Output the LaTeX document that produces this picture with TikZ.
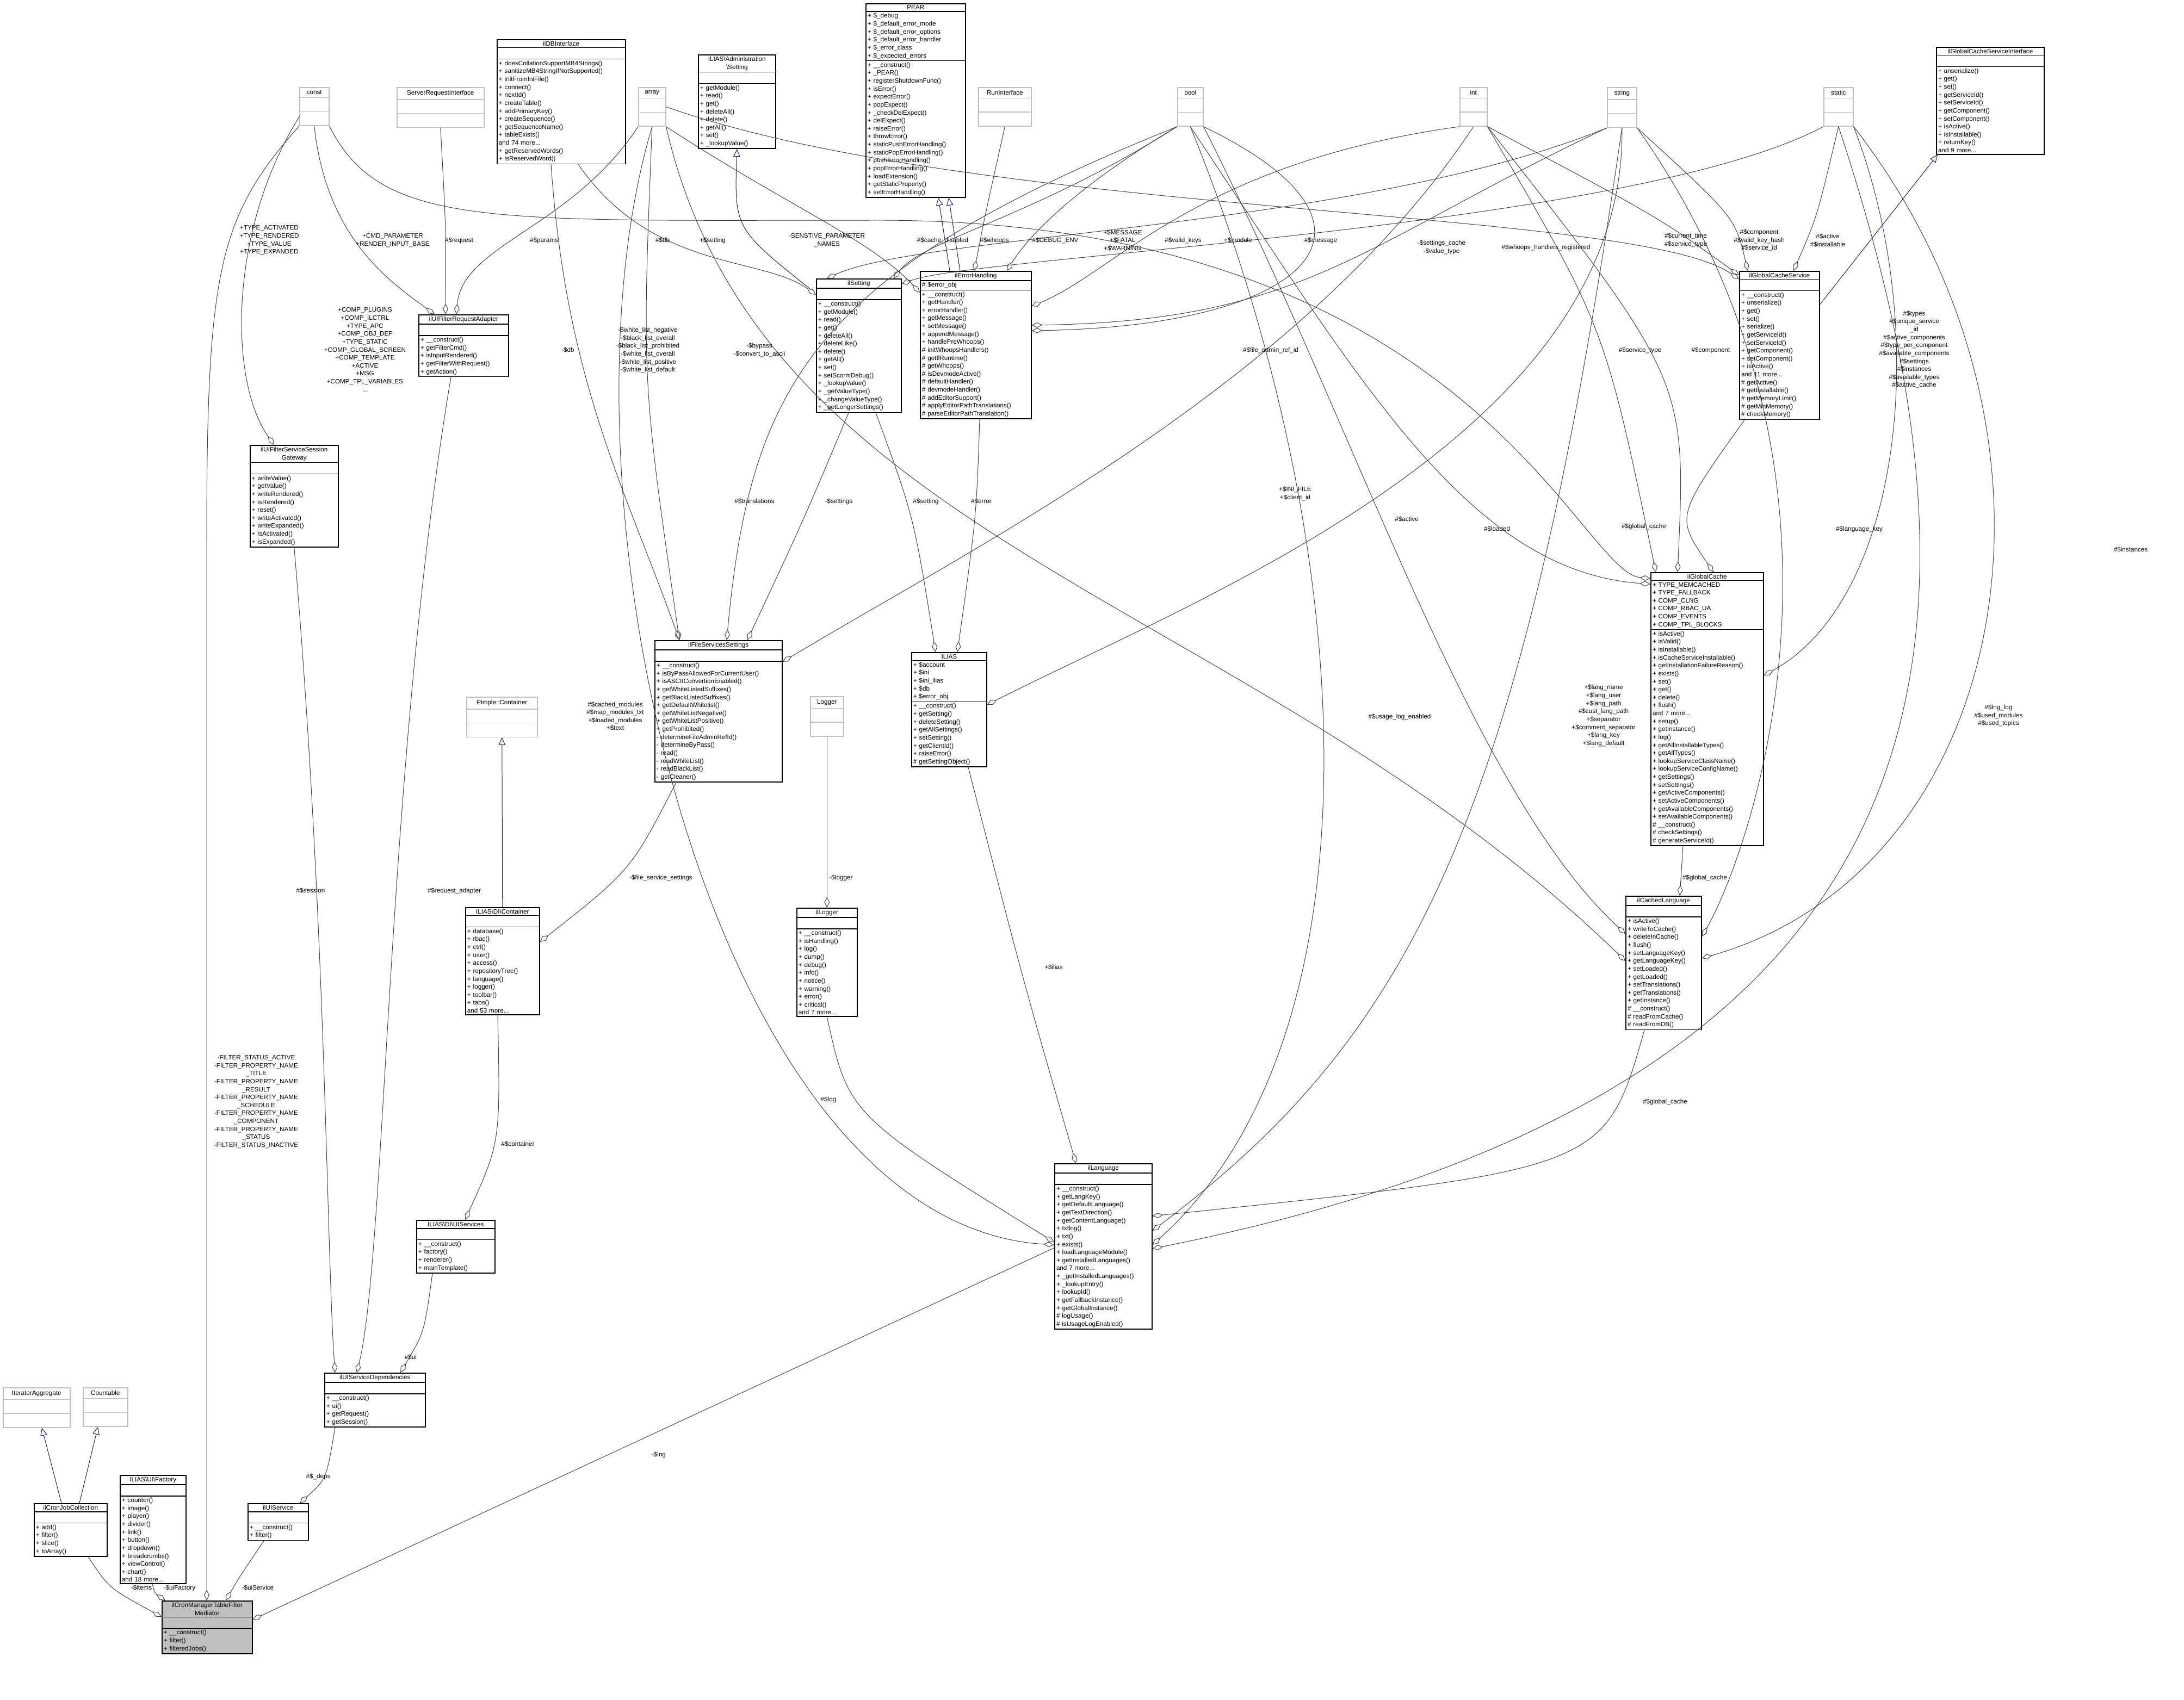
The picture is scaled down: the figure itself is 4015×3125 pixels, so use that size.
\documentclass[tikz,border=0pt]{standalone}
\usepackage{fontspec}
\setmainfont{Liberation Sans}
\usetikzlibrary{shapes.multipart,arrows.meta,calc}

\newcommand\dgfont{\fontsize{8.3}{10.4}\selectfont}
\newcommand\ttl[1]{\makebox[\hsize][c]{#1}}
\definecolor{edgecol}{rgb}{0.25,0.25,0.25}
\definecolor{gencol}{rgb}{0.1,0.1,0.45}

\tikzset{
  cls/.style={rectangle split, rectangle split parts=3, draw=black, line width=1.1pt,
    anchor=north west, align=left,
    inner xsep=0.08cm, inner ysep=0.06cm,
    font=\dgfont, text width={0.025cm*#1-0.16cm}},
  extcls/.style={cls=#1, draw=black!25, inner ysep=0.12cm},
  agg/.style={draw=edgecol, line width=0.7pt, -{Diamond[open,length=14pt,width=7pt]}},
  gen/.style={draw=gencol, line width=0.7pt, -{Triangle[open,length=10pt,width=9pt]}},
  lbl/.style={font=\dgfont, align=center, inner sep=1pt},
}

\begin{document}
\begin{tikzpicture}[x=0.025cm,y=-0.025cm]
  \useasboundingbox (0,0) rectangle (4015,3125);
%%
  % Node: basic types
  \node[extcls=54] (const) at (550,160) {\ttl{const} \nodepart{two}\strut \nodepart{three}\strut};
  \node[extcls=160] (sri) at (729,160) {\ttl{ServerRequestInterface} \nodepart{two}\strut \nodepart{three}\strut};
  \node[extcls=50] (array) at (1173,160) {\ttl{array} \nodepart{two}\strut \nodepart{three}\strut};
  \node[extcls=97] (runiface) at (1798,160) {\ttl{RunInterface} \nodepart{two}\strut \nodepart{three}\strut};
  \node[extcls=47] (bool) at (2164,160) {\ttl{bool} \nodepart{two}\strut \nodepart{three}\strut};
  \node[extcls=50] (int) at (2683,160) {\ttl{int} \nodepart{two}\strut \nodepart{three}\strut};
  \node[extcls=54] (string) at (2954,160) {\ttl{string} \nodepart{two}\strut \nodepart{three}\strut};
  \node[extcls=54] (static) at (3352,160) {\ttl{static} \nodepart{two}\strut \nodepart{three}\strut};
  \node[extcls=123] (iteraggr) at (5,2551) {\ttl{IteratorAggregate} \nodepart{two}\strut \nodepart{three}\strut};
  \node[extcls=82] (countable) at (152,2551) {\ttl{Countable} \nodepart{two}\strut \nodepart{three}\strut};
  \node[extcls=130] (pimple) at (857,1281) {\ttl{Pimple::Container} \nodepart{two}\strut \nodepart{three}\strut};
  \node[extcls=61] (logger) at (1489,1280) {\ttl{Logger} \nodepart{two}\strut \nodepart{three}\strut};
  % Node: classes
  \node[cls=236] (dbiface) at (913,72) {\ttl{ilDBInterface} \nodepart{two}\strut \nodepart{three}
    + doesCollationSupportMB4Strings()\\+ sanitizeMB4StringIfNotSupported()\\+ initFromIniFile()\\+ connect()\\+ nextId()\\+ createTable()\\+ addPrimaryKey()\\+ createSequence()\\+ getSequenceName()\\+ tableExists()\\and 74 more...\\+ getReservedWords()\\+ isReservedWord()};
  \node[cls=142] (admsetting) at (1283,100) {\ttl{ILIAS\textbackslash Administration}\\\ttl{\textbackslash Setting} \nodepart{two}\strut \nodepart{three}
    + getModule()\\+ read()\\+ get()\\+ deleteAll()\\+ delete()\\+ getAll()\\+ set()\\+ \_lookupValue()};
  \node[cls=183] (pear) at (1591,6) {\ttl{PEAR} \nodepart{two}
    + \$\_debug\\+ \$\_default\_error\_mode\\+ \$\_default\_error\_options\\+ \$\_default\_error\_handler\\+ \$\_error\_class\\+ \$\_expected\_errors \nodepart{three}
    + \_\_construct()\\+ \_PEAR()\\+ registerShutdownFunc()\\+ isError()\\+ expectError()\\+ popExpect()\\+ \_checkDelExpect()\\+ delExpect()\\+ raiseError()\\+ throwError()\\+ staticPushErrorHandling()\\+ staticPopErrorHandling()\\+ pushErrorHandling()\\+ popErrorHandling()\\+ loadExtension()\\+ getStaticProperty()\\+ setErrorHandling()};
  \node[cls=198] (gcsiface) at (3559,86) {\ttl{ilGlobalCacheServiceInterface} \nodepart{two}\strut \nodepart{three}
    + unserialize()\\+ get()\\+ set()\\+ getServiceId()\\+ setServiceId()\\+ getComponent()\\+ setComponent()\\+ isActive()\\+ isInstallable()\\+ returnKey()\\and 9 more...};
  \node[cls=156] (setting) at (1500,512) {\ttl{ilSetting} \nodepart{two}\strut \nodepart{three}
    + \_\_construct()\\+ getModule()\\+ read()\\+ get()\\+ deleteAll()\\+ deleteLike()\\+ delete()\\+ getAll()\\+ set()\\+ setScormDebug()\\+ \_lookupValue()\\+ \_getValueType()\\+ \_changeValueType()\\+ \_getLongerSettings()};
  \node[cls=204] (errhandling) at (1691,498) {\ttl{ilErrorHandling} \nodepart{two}
    \# \$error\_obj \nodepart{three}
    + \_\_construct()\\+ getHandler()\\+ errorHandler()\\+ getMessage()\\+ setMessage()\\+ appendMessage()\\+ handlePreWhoops()\\\# initWhoopsHandlers()\\\# getIlRuntime()\\\# getWhoops()\\\# isDevmodeActive()\\\# defaultHandler()\\\# devmodeHandler()\\\# addEditorSupport()\\\# applyEditorPathTranslations()\\\# parseEditorPathTranslation()};
  \node[cls=147] (gcservice) at (3197,498) {\ttl{ilGlobalCacheService} \nodepart{two}\strut \nodepart{three}
    + \_\_construct()\\+ unserialize()\\+ get()\\+ set()\\+ serialize()\\+ getServiceId()\\+ setServiceId()\\+ getComponent()\\+ setComponent()\\+ isActive()\\and 11 more...\\\# getActive()\\\# getInstallable()\\\# getMemoryLimit()\\\# getMinMemory()\\\# checkMemory()};
  \node[cls=165] (adapter) at (769,578) {\ttl{ilUIFilterRequestAdapter} \nodepart{two}\strut \nodepart{three}
    + \_\_construct()\\+ getFilterCmd()\\+ isInputRendered()\\+ getFilterWithRequest()\\+ getAction()};
  \node[cls=162] (gateway) at (459,818) {\ttl{ilUIFilterServiceSession}\\\ttl{Gateway} \nodepart{two}\strut \nodepart{three}
    + writeValue()\\+ getValue()\\+ writeRendered()\\+ isRendered()\\+ reset()\\+ writeActivated()\\+ writeExpanded()\\+ isActivated()\\+ isExpanded()};
  \node[cls=207] (globalcache) at (3034,1052) {\ttl{ilGlobalCache} \nodepart{two}
    + TYPE\_MEMCACHED\\+ TYPE\_FALLBACK\\+ COMP\_CLNG\\+ COMP\_RBAC\_UA\\+ COMP\_EVENTS\\+ COMP\_TPL\_BLOCKS \nodepart{three}
    + isActive()\\+ isValid()\\+ isInstallable()\\+ isCacheServiceInstallable()\\+ getInstallationFailureReason()\\+ exists()\\+ set()\\+ get()\\+ delete()\\+ flush()\\and 7 more...\\+ setup()\\+ getInstance()\\+ log()\\+ getAllInstallableTypes()\\+ getAllTypes()\\+ lookupServiceClassName()\\+ lookupServiceConfigName()\\+ getSettings()\\+ setSettings()\\+ getActiveComponents()\\+ setActiveComponents()\\+ getAvailableComponents()\\+ setAvailableComponents()\\\# \_\_construct()\\\# checkSettings()\\\# generateServiceId()};
  \node[cls=234] (fileservices) at (1203,1177) {\ttl{ilFileServicesSettings} \nodepart{two}\strut \nodepart{three}
    + \_\_construct()\\+ isByPassAllowedForCurrentUser()\\+ isASCIIConvertionEnabled()\\+ getWhiteListedSuffixes()\\+ getBlackListedSuffixes()\\+ getDefaultWhitelist()\\+ getWhiteListNegative()\\+ getWhiteListPositive()\\+ getProhibited()\\- determineFileAdminRefId()\\- determineByPass()\\- read()\\- readWhiteList()\\- readBlackList()\\- getCleaner()};
  \node[cls=138] (ilias) at (1675,1199) {\ttl{ILIAS} \nodepart{two}
    + \$account\\+ \$ini\\+ \$ini\_ilias\\+ \$db\\+ \$error\_obj \nodepart{three}
    + \_\_construct()\\+ getSetting()\\+ deleteSetting()\\+ getAllSettings()\\+ setSetting()\\+ getClientId()\\+ raiseError()\\\# getSettingObject()};
  \node[cls=139] (cachedlang) at (2988,1647) {\ttl{ilCachedLanguage} \nodepart{two}\strut \nodepart{three}
    + isActive()\\+ writeToCache()\\+ deleteInCache()\\+ flush()\\+ setLanguageKey()\\+ getLanguageKey()\\+ setLoaded()\\+ getLoaded()\\+ setTranslations()\\+ getTranslations()\\+ getInstance()\\\# \_\_construct()\\\# readFromCache()\\\# readFromDB()};
  \node[cls=136] (dicontainer) at (855,1668) {\ttl{ILIAS\textbackslash DI\textbackslash Container} \nodepart{two}\strut \nodepart{three}
    + database()\\+ rbac()\\+ ctrl()\\+ user()\\+ access()\\+ repositoryTree()\\+ language()\\+ logger()\\+ toolbar()\\+ tabs()\\and 53 more...};
  \node[cls=111] (illogger) at (1464,1669) {\ttl{ilLogger} \nodepart{two}\strut \nodepart{three}
    + \_\_construct()\\+ isHandling()\\+ log()\\+ dump()\\+ debug()\\+ info()\\+ notice()\\+ warning()\\+ error()\\+ critical()\\and 7 more...};
  \node[cls=179] (language) at (1938,2139) {\ttl{ilLanguage} \nodepart{two}\strut \nodepart{three}
    + \_\_construct()\\+ getLangKey()\\+ getDefaultLanguage()\\+ getTextDirection()\\+ getContentLanguage()\\+ txtlng()\\+ txt()\\+ exists()\\+ loadLanguageModule()\\+ getInstalledLanguages()\\and 7 more...\\+ \_getInstalledLanguages()\\+ \_lookupEntry()\\+ lookupId()\\+ getFallbackInstance()\\+ getGlobalInstance()\\\# logUsage()\\\# isUsageLogEnabled()};
  \node[cls=144] (uiservices) at (765,2243) {\ttl{ILIAS\textbackslash DI\textbackslash UIServices} \nodepart{two}\strut \nodepart{three}
    + \_\_construct()\\+ factory()\\+ renderer()\\+ mainTemplate()};
  \node[cls=185] (uideps) at (596,2524) {\ttl{ilUIServiceDependencies} \nodepart{two}\strut \nodepart{three}
    + \_\_construct()\\+ ui()\\+ getRequest()\\+ getSession()};
  \node[cls=111] (uiservice) at (455,2764) {\ttl{ilUIService} \nodepart{two}\strut \nodepart{three}
    + \_\_construct()\\+ filter()};
  \node[cls=134] (cronjobs) at (62,2764) {\ttl{ilCronJobCollection} \nodepart{two}\strut \nodepart{three}
    + add()\\+ filter()\\+ slice()\\+ toArray()};
  \node[cls=121] (uifactory) at (220,2712) {\ttl{ILIAS\textbackslash UI\textbackslash Factory} \nodepart{two}\strut \nodepart{three}
    + counter()\\+ image()\\+ player()\\+ divider()\\+ link()\\+ button()\\+ dropdown()\\+ breadcrumbs()\\+ viewControl()\\+ chart()\\and 18 more...};
  \node[cls=166, fill=black!25] (mediator) at (297,2943) {\ttl{ilCronManagerTableFilter}\\\ttl{Mediator} \nodepart{two}\strut \nodepart{three}
    + \_\_construct()\\+ filter()\\+ filteredJobs()};
%%
  % Edge: generalizations
  \draw[gen] ($(cronjobs.north west)+(51,0)$) -- ($(iteraggr.south west)+(72,0)$);
  \draw[gen] ($(cronjobs.north west)+(84,0)$) -- ($(countable.south west)+(28,0)$);
  \draw[gen] (dicontainer.north) -- (pimple.south);
  \draw[gen] ($(setting.north west)+(-10,20)$) .. controls (1350,420) .. (admsetting.south);
  \draw[gen] ($(errhandling.north west)+(55,0)$) -- ($(pear.south west)+(134,0)$);
  \draw[gen] ($(errhandling.north west)+(74,0)$) -- ($(pear.south west)+(153,0)$);
  \draw[gen] ($(gcservice.north east)+(0,62)$) -- ($(gcsiface.south west)+(3,0)$);
  % Edge: into mediator
  \draw[agg] ($(cronjobs.south west)+(100,0)$) .. controls (200,2920) .. ($(mediator.north west)+(0,30)$);
  \draw[agg] ($(uifactory.south west)+(60,0)$) .. controls (285,2930) .. ($(mediator.north west)+(7,0)$);
  \draw[agg] ($(uiservice.south west)+(30,0)$) .. controls (440,2900) .. ($(mediator.north west)+(118,0)$);
  \draw[agg] (const.south west) .. controls (400,400) and (380,500) .. (380,1000) -- ($(mediator.north west)+(83,0)$);
  \draw[agg] ($(language.south west)+(0,-150)$) -- ($(mediator.north east)+(0,35)$);
  % Edge: UI services
  \draw[agg] ($(uideps.south west)+(20,0)$) .. controls (600,2720) .. ($(uiservice.north west)+(96,0)$);
  \draw[agg] (gateway.south) .. controls (600,1700) and (600,2300) .. ($(uideps.north west)+(20,0)$);
  \draw[agg] ($(adapter.south west)+(60,0)$) .. controls (710,1400) and (710,2300) .. ($(uideps.north west)+(60,0)$);
  \draw[agg] ($(uiservices.south west)+(30,0)$) .. controls (780,2450) .. ($(uideps.north west)+(140,0)$);
  \draw[agg] ($(dicontainer.south west)+(60,0)$) .. controls (920,2100) .. ($(uiservices.north west)+(90,0)$);
  \draw[agg] ($(fileservices.south west)+(40,0)$) .. controls (1160,1600) .. ($(dicontainer.north east)+(0,64)$);
  \draw[agg] (logger.south) -- (illogger.north);
  \draw[agg] (illogger.south) .. controls (1560,2050) .. ($(language.north west)+(0,145)$);
  \draw[agg] ($(ilias.south west)+(105,0)$) .. controls (1880,1800) .. ($(language.north west)+(40,0)$);
  % Edge: settings and errors
  \draw[agg] ($(setting.south west)+(60,0)$) .. controls (1480,950) .. ($(fileservices.north west)+(171,0)$);
  \draw[agg] ($(setting.south west)+(110,0)$) .. controls (1680,950) .. ($(ilias.north west)+(45,0)$);
  \draw[agg] ($(errhandling.south west)+(110,0)$) .. controls (1795,950) .. ($(ilias.north west)+(85,0)$);
  \draw[agg] (array.south) .. controls (1180,700) .. ($(fileservices.north west)+(46,0)$);
  \draw[agg] (bool.south west) .. controls (1500,500) and (1380,700) .. ($(fileservices.north west)+(133,0)$);
  \draw[agg] ($(dbiface.south west)+(100,0)$) .. controls (1040,700) and (1150,900) .. ($(fileservices.north west)+(46,0)$);
  \draw[agg] ($(dbiface.south west)+(150,0)$) .. controls (1200,500) and (1400,470) .. ($(setting.north west)+(0,30)$);
  % Edge: adapter and gateway
  \draw[agg] (array.south west) .. controls (1050,420) and (850,450) .. ($(adapter.north west)+(70,0)$);
  \draw[agg] (sri.south) .. controls (820,420) .. ($(adapter.north west)+(50,0)$);
  \draw[agg] (const.south) .. controls (600,440) and (720,520) .. ($(adapter.north west)+(30,0)$);
  \draw[agg] ($(const.south west)+(2,-20)$) .. controls (420,420) and (420,700) .. ($(gateway.north west)+(45,0)$);
  % Edge: const and array to caches
  \draw[agg] (const.south east) .. controls (700,420) and (900,405) .. (1600,405) .. controls (2700,400) and (2900,1050) .. ($(globalcache.north west)+(0,12)$);
  \draw[agg] (array.south east) .. controls (1450,380) and (1600,440) .. ($(errhandling.north west)+(0,40)$);
  \draw[agg] (array.south east) .. controls (1400,1000) and (2300,1100) .. ($(cachedlang.north west)+(0,120)$);
  \draw[agg] (array.south) .. controls (1000,900) and (1300,2250) .. ($(language.north west)+(0,150)$);
  \draw[agg] (array.east) .. controls (1800,400) and (3000,380) .. ($(gcservice.north west)+(0,15)$);
  % Edge: top row to ilSetting, ilErrorHandling, ILIAS
  \draw[agg] (bool.south west) .. controls (1900,400) and (1700,440) .. ($(setting.north east)+(-15,0)$);
  \draw[agg] (runiface.south) .. controls (1810,400) .. ($(errhandling.north west)+(100,0)$);
  \draw[agg] (bool.south west) .. controls (2000,330) and (1900,420) .. ($(errhandling.north west)+(160,0)$);
  \draw[agg] (int.south west) .. controls (2200,300) and (2050,500) .. ($(errhandling.north east)+(0,65)$);
  \draw[agg] (string.south west) .. controls (2500,420) and (1700,430) .. ($(setting.north west)+(20,0)$);
  \draw[agg] (string.south west) .. controls (2500,450) and (2400,590) .. ($(errhandling.north east)+(0,100)$);
  \draw[agg] (static.south west) .. controls (3000,420) and (1800,470) .. ($(setting.north east)+(0,10)$);
  \draw[agg] (bool.south east) .. controls (2600,420) and (2400,600) .. ($(errhandling.north east)+(0,110)$);
  \draw[agg] (string.south) .. controls (2990,800) and (2200,1100) .. ($(ilias.north east)+(0,97)$);
  \draw[agg] (int.south) .. controls (2400,700) and (1800,1000) .. ($(fileservices.north east)+(0,40)$);
  % Edge: into ilGlobalCacheService and ilGlobalCache
  \draw[agg] (int.south east) .. controls (3050,400) .. ($(gcservice.north west)+(0,8)$);
  \draw[agg] (string.south east) .. controls (3190,400) .. ($(gcservice.north west)+(16,0)$);
  \draw[agg] (static.south) .. controls (3340,400) .. ($(gcservice.north west)+(100,0)$);
  \draw[agg] ($(gcservice.south west)+(10,0)$) .. controls (3080,950) .. ($(globalcache.north west)+(116,0)$);
  \draw[agg] (int.south east) .. controls (2950,600) .. ($(globalcache.north west)+(10,0)$);
  \draw[agg] (int.south east) .. controls (3100,700) .. ($(globalcache.north west)+(50,0)$);
  \draw[agg] (bool.south) .. controls (2500,700) and (2700,1050) .. ($(globalcache.north west)+(0,22)$);
  \draw[agg] (static.south east) .. controls (3550,600) and (3500,1100) .. ($(globalcache.north east)+(0,190)$);
  % Edge: into ilCachedLanguage and ilLanguage
  \draw[agg] ($(globalcache.south west)+(60,0)$) -- ($(cachedlang.north west)+(100,0)$);
  \draw[agg] (bool.south east) .. controls (2500,800) and (2700,1450) .. ($(cachedlang.north west)+(0,70)$);
  \draw[agg] (string.south east) .. controls (3480,900) and (3200,1600) .. ($(cachedlang.north east)+(0,75)$);
  \draw[agg] (static.south east) .. controls (3850,800) and (3700,1600) .. ($(cachedlang.north east)+(0,115)$);
  \draw[agg] ($(cachedlang.south west)+(35,0)$) .. controls (2950,2150) .. ($(language.north east)+(0,97)$);
  \draw[agg] (string.south) .. controls (2800,1500) and (2600,1900) .. ($(language.north east)+(0,124)$);
  \draw[agg] (bool.south) .. controls (2500,1000) and (2550,1900) .. ($(language.north east)+(0,150)$);
  \draw[agg] (static.south) .. controls (3700,1200) and (3600,2000) .. ($(language.north east)+(0,157)$);
%%
  % Labels
  \node[lbl] (l-items) at (260,2920) {-\$items};
  \node[lbl] (l-uifactory) at (330,2920) {-\$uiFactory};
  \node[lbl] (l-uiservice) at (474,2920) {-\$uiService};
  \node[lbl] (l-filter) at (471,2026) {-FILTER\_STATUS\_ACTIVE\\-FILTER\_PROPERTY\_NAME\\\_TITLE\\-FILTER\_PROPERTY\_NAME\\\_RESULT\\-FILTER\_PROPERTY\_NAME\\\_SCHEDULE\\-FILTER\_PROPERTY\_NAME\\\_COMPONENT\\-FILTER\_PROPERTY\_NAME\\\_STATUS\\-FILTER\_STATUS\_INACTIVE};
  \node[lbl] (l-lng) at (1211,2675) {-\$lng};
  \node[lbl] (l-deps) at (585,2715) {\#\$\_deps};
  \node[lbl] (l-session) at (571,1638) {\#\$session};
  \node[lbl] (l-reqadapter) at (835,1638) {\#\$request\_adapter};
  \node[lbl] (l-ui) at (755,2496) {\#\$ui};
  \node[lbl] (l-container) at (952,2104) {\#\$container};
  \node[lbl] (l-fss) at (1215,1614) {-\$file\_service\_settings};
  \node[lbl] (l-logger) at (1546,1614) {-\$logger};
  \node[lbl] (l-log) at (1523,2022) {\#\$log};
  \node[lbl] (l-ilias) at (1937,1779) {+\$ilias};
  \node[lbl] (l-settings) at (1542,922) {-\$settings};
  \node[lbl] (l-setting) at (1702,922) {\#\$setting};
  \node[lbl] (l-error) at (1804,922) {\#\$error};
  \node[lbl] (l-translations) at (1387,922) {\#\$translations};
  \node[lbl] (l-whitelist) at (1191,644) {-\$white\_list\_negative\\-\$black\_list\_overall\\-\$black\_list\_prohibited\\-\$white\_list\_overall\\-\$white\_list\_positive\\-\$white\_list\_default};
  \node[lbl] (l-bypass) at (1396,644) {-\$bypass\\-\$convert\_to\_ascii};
  \node[lbl] (l-db) at (1044,644) {-\$db};
  \node[lbl] (l-dbset) at (1218,442) {\#\$db};
  \node[lbl] (l-adm) at (1310,442) {+\$setting};
  \node[lbl] (l-params) at (1000,442) {\#\$params};
  \node[lbl] (l-request) at (844,442) {\#\$request};
  \node[lbl] (l-cmd) at (722,442) {+CMD\_PARAMETER\\+RENDER\_INPUT\_BASE};
  \node[lbl] (l-type) at (495,442) {+TYPE\_ACTIVATED\\+TYPE\_RENDERED\\+TYPE\_VALUE\\+TYPE\_EXPANDED};
  \node[lbl] (l-comp) at (671,643) {+COMP\_PLUGINS\\+COMP\_ILCTRL\\+TYPE\_APC\\+COMP\_OBJ\_DEF\\+TYPE\_STATIC\\+COMP\_GLOBAL\_SCREEN\\+COMP\_TEMPLATE\\+ACTIVE\\+MSG\\+COMP\_TPL\_VARIABLES\\...};
  \node[lbl] (l-sensitive) at (1520,442) {-SENSTIVE\_PARAMETER\\\_NAMES};
  \node[lbl] (l-cachedis) at (1733,442) {\#\$cache\_disabled};
  \node[lbl] (l-whoops) at (1828,442) {\#\$whoops};
  \node[lbl] (l-debugenv) at (1940,442) {\#\$DEBUG\_ENV};
  \node[lbl] (l-message) at (2064,442) {+\$MESSAGE\\+\$FATAL\\+\$WARNING};
  \node[lbl] (l-validkeys) at (2175,442) {\#\$valid\_keys};
  \node[lbl] (l-module) at (2276,442) {+\$module};
  \node[lbl] (l-msg) at (2428,442) {\#\$message};
  \node[lbl] (l-setcache) at (2650,455) {-\$settings\_cache\\-\$value\_type};
  \node[lbl] (l-whoopsreg) at (2842,455) {\#\$whoops\_handlers\_registered};
  \node[lbl] (l-curtime) at (3099,442) {\#\$current\_time\\\#\$service\_type};
  \node[lbl] (l-component) at (3234,442) {\#\$component\\\#\$valid\_key\_hash\\\#\$service\_id};
  \node[lbl] (l-active) at (3360,442) {\#\$active\\\#\$installable};
  \node[lbl] (l-types) at (3519,643) {\#\$types\\\#\$unique\_service\\\_id\\\#\$active\_components\\\#\$type\_per\_component\\\#\$available\_components\\\#\$settings\\\#\$instances\\\#\$available\_types\\\#\$active\_cache};
  \node[lbl] (l-gcache1) at (3022,968) {\#\$global\_cache};
  \node[lbl] (l-servtype) at (3015,644) {\#\$service\_type};
  \node[lbl] (l-comp2) at (3145,644) {\#\$component};
  \node[lbl] (l-fileadmin) at (2336,644) {\#\$file\_admin\_ref\_id};
  \node[lbl] (l-active2) at (2586,955) {\#\$active};
  \node[lbl] (l-inifile) at (2381,908) {+\$INI\_FILE\\+\$client\_id};
  \node[lbl] (l-gcache2) at (3134,1614) {\#\$global\_cache};
  \node[lbl] (l-loaded) at (2752,973) {\#\$loaded};
  \node[lbl] (l-langkey) at (3418,973) {\#\$language\_key};
  \node[lbl] (l-instances) at (3917,1011) {\#\$instances};
  \node[lbl] (l-gcache3) at (3061,2026) {\#\$global\_cache};
  \node[lbl] (l-langname) at (2948,1316) {+\$lang\_name\\+\$lang\_user\\+\$lang\_path\\\#\$cust\_lang\_path\\+\$separator\\+\$comment\_separator\\+\$lang\_key\\+\$lang\_default};
  \node[lbl] (l-usagelog) at (2573,1318) {\#\$usage\_log\_enabled};
  \node[lbl] (l-lnglog) at (3674,1316) {\#\$lng\_log\\\#\$used\_modules\\\#\$used\_topics};
  \node[lbl] (l-modules) at (1131,1317) {\#\$cached\_modules\\\#\$map\_modules\_txt\\+\$loaded\_modules\\+\$text};
%
\end{tikzpicture}
\end{document}
